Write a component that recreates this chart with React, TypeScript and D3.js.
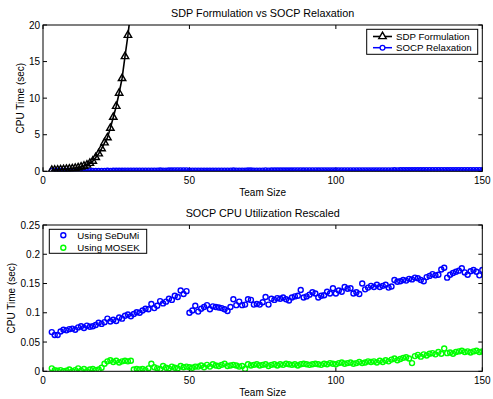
import React from "react";
import * as d3 from "d3";

// team sizes (x) for every series
const teamSizes = d3.range(3, 151);
const sdpSizes = d3.range(3, 31);

// SDP formulation CPU time (sec), team size 3..30
const sdpTime = [
  0.15, 0.17, 0.2, 0.22, 0.25, 0.28, 0.32, 0.36, 0.42, 0.5,
  0.6, 0.72, 0.87, 1.1, 1.4, 1.9, 2.4, 3.1, 3.9, 4.6,
  5.9, 7.4, 8.9, 10.7, 12.7, 15.7, 18.6, 22.0,
];

// SOCP using SeDuMi, team size 3..150
const sedumiTime = [
  0.067, 0.062, 0.062, 0.068, 0.071, 0.070, 0.072, 0.073, 0.071, 0.075,
  0.077, 0.074, 0.078, 0.076, 0.077, 0.079, 0.083, 0.081, 0.084, 0.090,
  0.085, 0.088, 0.086, 0.092, 0.090, 0.095, 0.097, 0.094, 0.098, 0.101,
  0.100, 0.104, 0.107, 0.106, 0.115, 0.108, 0.112, 0.120, 0.116, 0.119,
  0.124, 0.122, 0.129, 0.127, 0.138, 0.132, 0.137,
  0.100, 0.104, 0.112, 0.102, 0.107, 0.110, 0.113, 0.106, 0.111, 0.110,
  0.109, 0.108, 0.106, 0.103, 0.110, 0.123, 0.113, 0.119, 0.113, 0.114,
  0.123, 0.122, 0.114, 0.115, 0.114, 0.118, 0.127, 0.114, 0.124, 0.122,
  0.125, 0.124, 0.126, 0.123, 0.121, 0.126, 0.128, 0.129, 0.139, 0.126,
  0.128, 0.131, 0.135, 0.133, 0.126, 0.129, 0.130, 0.136, 0.133, 0.142,
  0.133, 0.138, 0.136, 0.144, 0.141, 0.142, 0.133, 0.135, 0.132, 0.150,
  0.140, 0.143, 0.146, 0.144, 0.148, 0.144, 0.146, 0.148, 0.143, 0.145,
  0.156, 0.153, 0.154, 0.156, 0.155, 0.158, 0.157, 0.160, 0.159, 0.156,
  0.154, 0.161, 0.163, 0.166, 0.164, 0.165, 0.174, 0.177, 0.160, 0.165,
  0.168, 0.170, 0.172, 0.176, 0.169, 0.165, 0.171, 0.173, 0.170, 0.164, 0.173,
];

// SOCP using MOSEK, team size 3..150
const mosekTime = [
  0.005, 0.002, 0.001, 0.002, 0.000, 0.001, 0.003, 0.000, 0.002, 0.005,
  0.001, 0.004, 0.000, 0.003, 0.004, 0.002, 0.003, 0.006, 0.013, 0.017,
  0.019, 0.016, 0.018, 0.015, 0.017, 0.018, 0.017, 0.018, 0.003, 0.004,
  0.003, 0.004, 0.002, 0.005, 0.013, 0.007, 0.005, 0.004, 0.009, 0.006,
  0.005, 0.008, 0.006, 0.005, 0.009, 0.007, 0.008, 0.007, 0.006, 0.008,
  0.008, 0.010, 0.007, 0.011, 0.008, 0.012, 0.010, 0.009, 0.011, 0.013,
  0.009, 0.010, 0.011, 0.010, 0.008, 0.009, 0.004, 0.012, 0.010, 0.011,
  0.012, 0.010, 0.011, 0.012, 0.009, 0.011, 0.012, 0.010, 0.012, 0.011,
  0.013, 0.012, 0.011, 0.012, 0.010, 0.012, 0.013, 0.012, 0.011, 0.012,
  0.013, 0.012, 0.011, 0.013, 0.012, 0.014, 0.013, 0.012, 0.014, 0.015,
  0.013, 0.014, 0.015, 0.013, 0.014, 0.016, 0.014, 0.015, 0.017, 0.016,
  0.017, 0.015, 0.018, 0.016, 0.019, 0.017, 0.020, 0.022, 0.019, 0.021,
  0.023, 0.024, 0.022, 0.014, 0.026, 0.028, 0.025, 0.029, 0.027, 0.030,
  0.031, 0.029, 0.033, 0.030, 0.039, 0.031, 0.032, 0.030, 0.033, 0.034,
  0.035, 0.033, 0.034, 0.032, 0.034, 0.035, 0.033, 0.034,
];

const xTicks = [0, 50, 100, 150];
const topYTicks = [0, 5, 10, 15, 20];
const bottomYTicks = [0, 0.05, 0.1, 0.15, 0.2, 0.25];

const FONT = "'Liberation Sans', Arial, Helvetica, sans-serif";
const W = 493;
const H = 399;
const left = 43;
const right = 482.3;
const tickLen = 4;

type AxesProps = {
  top: number;
  bottom: number;
  yDomain: [number, number];
  yTicks: number[];
  title: string;
  titleY: number;
  ylabelX: number;
  children: (x: d3.ScaleLinear<number, number>, y: d3.ScaleLinear<number, number>) => React.ReactNode;
  id: string;
};

const Axes: React.FC<AxesProps> = ({ top, bottom, yDomain, yTicks, title, titleY, ylabelX, children, id }) => {
  const x = d3.scaleLinear().domain([0, 150]).range([left, right]);
  const y = d3.scaleLinear().domain(yDomain).range([bottom, top]);
  const cx = (left + right) / 2;
  return (
    <g>
      <defs>
        <clipPath id={id}>
          <rect x={left} y={top} width={right - left} height={bottom - top} />
        </clipPath>
      </defs>
      <rect x={left} y={top} width={right - left} height={bottom - top} fill="#fff" />
      {/* ticks */}
      {xTicks.map((t) => (
        <g key={"x" + t}>
          <line x1={x(t)} x2={x(t)} y1={bottom} y2={bottom - tickLen} stroke="#000" />
          <line x1={x(t)} x2={x(t)} y1={top} y2={top + tickLen} stroke="#000" />
          <text x={x(t)} y={bottom + 13} textAnchor="middle" fontSize={10} fontFamily={FONT}>
            {t}
          </text>
        </g>
      ))}
      {yTicks.map((t) => (
        <g key={"y" + t}>
          <line x1={left} x2={left + tickLen} y1={y(t)} y2={y(t)} stroke="#000" />
          <line x1={right} x2={right - tickLen} y1={y(t)} y2={y(t)} stroke="#000" />
          <text x={left - 3} y={y(t) + 3.6} textAnchor="end" fontSize={10} fontFamily={FONT}>
            {t}
          </text>
        </g>
      ))}
      <g clipPath={`url(#${id})`}>{children(x, y)}</g>
      <rect x={left} y={top} width={right - left} height={bottom - top} fill="none" stroke="#000" strokeWidth={1} />
      <text x={cx} y={titleY} textAnchor="middle" fontSize={10.8} fontFamily={FONT}>
        {title}
      </text>
      <text x={cx} y={bottom + 25} textAnchor="middle" fontSize={10} fontFamily={FONT}>
        Team Size
      </text>
      <text
        transform={`translate(${ylabelX},${(top + bottom) / 2}) rotate(-90)`}
        textAnchor="middle"
        fontSize={10}
        fontFamily={FONT}
      >
        CPU Time (sec)
      </text>
    </g>
  );
};

const triangle = d3.symbol().type(d3.symbolTriangle).size(24)();

const App: React.FC = () => {
  const lineGen = (x: d3.ScaleLinear<number, number>, y: d3.ScaleLinear<number, number>) =>
    d3
      .line<[number, number]>()
      .x((d) => x(d[0]))
      .y((d) => y(d[1]));

  return (
    <svg width={W} height={H} style={{ position: "absolute", left: 0, top: 0, background: "#fff" }}>
      <rect width={W} height={H} fill="#fff" />
      <Axes
        id="clipTop"
        top={25}
        bottom={171.3}
        yDomain={[0, 20]}
        yTicks={topYTicks}
        title="SDP Formulation vs SOCP Relaxation"
        titleY={17}
        ylabelX={23.5}
      >
        {(x, y) => {
          const sdp = sdpSizes.map((s, i) => [s, sdpTime[i]] as [number, number]);
          const socp = teamSizes.map((s, i) => [s, sedumiTime[i]] as [number, number]);
          return (
            <g>
              <path d={lineGen(x, y)(socp) ?? ""} fill="none" stroke="#00f" strokeWidth={1.5} />
              {socp.map((d, i) => (
                <circle key={"s" + i} cx={x(d[0])} cy={y(d[1])} r={2.4} fill="none" stroke="#00f" strokeWidth={1.3} />
              ))}
              <path d={lineGen(x, y)(sdp) ?? ""} fill="none" stroke="#000" strokeWidth={1.6} />
              {sdp.map((d, i) => (
                <path
                  key={"t" + i}
                  d={triangle ?? ""}
                  transform={`translate(${x(d[0])},${y(d[1])})`}
                  fill="none"
                  stroke="#000"
                  strokeWidth={1.4}
                />
              ))}
            </g>
          );
        }}
      </Axes>
      {/* top legend */}
      <g fontFamily={FONT} fontSize={9.7}>
        <rect x={366.7} y={29.3} width={111} height={25} fill="#fff" stroke="#000" strokeWidth={1} />
        <line x1={373} x2={392} y1={36.5} y2={36.5} stroke="#000" strokeWidth={1.6} />
        <path d={triangle ?? ""} transform="translate(382.5,36.5)" fill="#fff" stroke="#000" strokeWidth={1.4} />
        <text x={396} y={40}>SDP Formulation</text>
        <line x1={373} x2={392} y1={47.7} y2={47.7} stroke="#00f" strokeWidth={1.5} />
        <circle cx={382.5} cy={47.7} r={2.4} fill="#fff" stroke="#00f" strokeWidth={1.3} />
        <text x={396} y={51.2}>SOCP Relaxation</text>
      </g>

      <Axes
        id="clipBottom"
        top={225}
        bottom={371.3}
        yDomain={[0, 0.25]}
        yTicks={bottomYTicks}
        title="SOCP CPU Utilization Rescaled"
        titleY={217}
        ylabelX={15}
      >
        {(x, y) => (
          <g>
            {teamSizes.map((s, i) => (
              <circle key={"b" + i} cx={x(s)} cy={y(sedumiTime[i])} r={2.5} fill="none" stroke="#00f" strokeWidth={1.4} />
            ))}
            {teamSizes.map((s, i) => (
              <circle key={"g" + i} cx={x(s)} cy={y(mosekTime[i])} r={2.5} fill="none" stroke="#0f0" strokeWidth={1.4} />
            ))}
          </g>
        )}
      </Axes>
      {/* bottom legend */}
      <g fontFamily={FONT} fontSize={9.7}>
        <rect x={49.3} y={229.3} width={97.4} height={24} fill="#fff" stroke="#000" strokeWidth={1} />
        <circle cx={63.3} cy={235.3} r={2.5} fill="none" stroke="#00f" strokeWidth={1.4} />
        <text x={77.3} y={238.8}>Using SeDuMi</text>
        <circle cx={63.3} cy={247.7} r={2.5} fill="none" stroke="#0f0" strokeWidth={1.4} />
        <text x={77.3} y={251.2}>Using MOSEK</text>
      </g>
    </svg>
  );
};

export default App;
